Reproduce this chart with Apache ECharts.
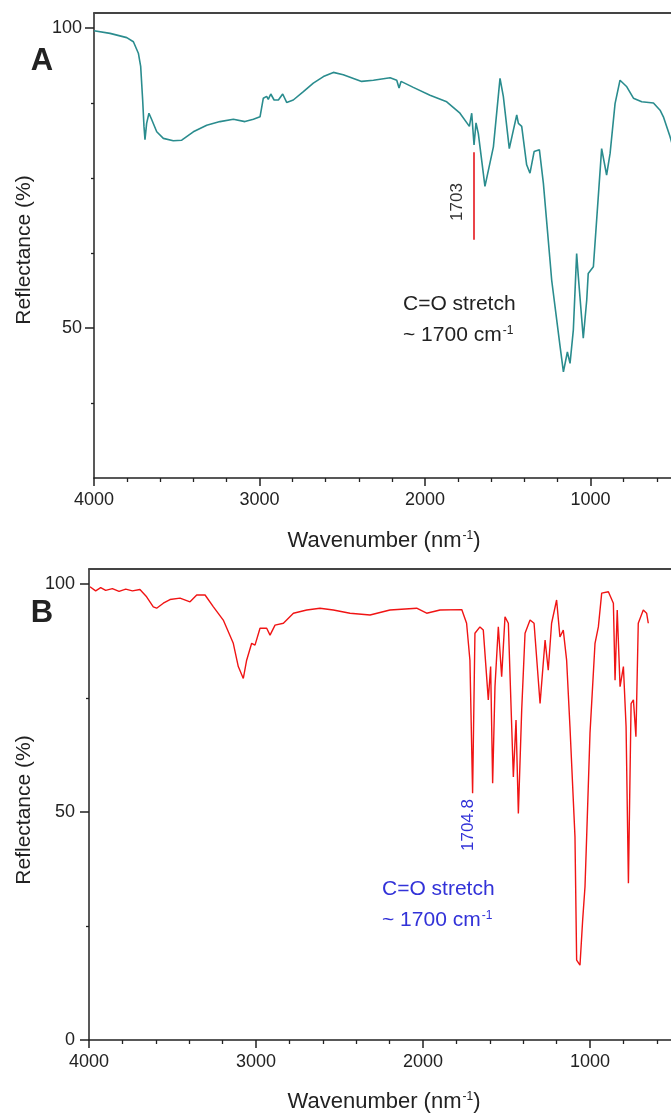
<!DOCTYPE html>
<html><head><meta charset="utf-8">
<script src="https://cdn.jsdelivr.net/npm/echarts@6/dist/echarts.min.js"></script>
<style>html,body{margin:0;padding:0;background:#fff}#c{width:671px;height:1116px}</style>
</head><body><div id="c"></div>
<script>
// ---- Panel A (teal) ----
const waveA = [
  4000,3903,3802,3762,3732,3718,3706,3698,3692,3682,
  3668,3651,3621,3581,3521,3470,3400,3319,3239,3158,
  3088,3037,2997,2977,2957,2947,2932,2912,2886,2860,
  2836,2796,2735,2675,2614,2554,2494,2383,2312,2211,
  2171,2157,2145,2071,1970,1869,1789,1732,1718,1704,
  1692,1678,1638,1587,1547,1527,1491,1471,1446,1436,
  1416,1386,1366,1341,1309,1285,1245,1235,1184,1164,
  1140,1124,1104,1084,1074,1044,1023,1014,983,933,
  903,882,852,822,781,741,691,620,580,560,
  520,500
];
const reflA = [
  99.55,99.1,98.4,97.7,95.8,93.6,88,83.6,81.4,84.1,
  85.8,84.7,82.7,81.6,81.2,81.3,82.7,83.8,84.4,84.8,
  84.4,84.8,85.2,88.3,88.6,88.1,89,88,88,89,
  87.6,88,89.4,90.8,91.9,92.6,92.2,91.1,91.3,91.7,
  91.3,90,91.1,90.1,88.8,87.7,85.8,83.6,85.8,80.5,
  84.2,82.4,73.6,80.2,91.6,88.6,79.9,82.4,85.5,84.1,
  83.6,77.2,75.8,79.4,79.7,74.1,61.3,58,46.9,42.7,
  46,44.1,49.7,62.4,58.6,48.3,54.7,59.1,60.2,79.9,
  75.5,79.1,87.4,91.3,90.2,88.3,87.7,87.5,86.3,85.2,
  81.9,80
];
// ---- Panel B (red) ----
const waveB = [
  3994,3960,3930,3900,3860,3820,3780,3740,3695,3655,
  3615,3595,3555,3515,3455,3395,3355,3305,3255,3196,
  3136,3106,3076,3056,3026,3006,2976,2936,2916,2886,
  2836,2776,2696,2617,2537,2437,2317,2198,2038,1978,
  1898,1768,1739,1719,1703,1689,1659,1639,1609,1595,
  1583,1569,1549,1529,1509,1489,1459,1443,1429,1409,
  1389,1359,1335,1299,1269,1250,1230,1200,1180,1160,
  1140,1120,1090,1080,1060,1044,1030,1020,1000,970,
  950,930,890,860,850,837,820,800,784,770,
  754,740,725,711,681,661,651
];
const reflB = [
  99.4,98.5,99.2,98.6,99.0,98.4,98.9,98.5,98.8,97.2,
  95,94.7,95.8,96.6,96.9,96.1,97.6,97.6,95,92.1,
  87,81.9,79.3,83.3,87,86.6,90.3,90.3,88.8,91,
  91.4,93.6,94.3,94.7,94.3,93.6,93.2,94.3,94.7,93.6,
  94.3,94.4,91.4,83.3,54.1,89.2,90.6,89.9,74.6,81.9,
  56.3,77.5,90.6,79.7,92.8,91.4,57.7,70.2,49.7,72.4,
  89.2,92.1,91.4,73.8,87.7,81.1,91.4,96.5,88.4,89.9,
  83.3,68.7,44.6,17.5,16.4,26.3,33.6,44.6,67.3,87,
  90.6,98,98.3,95.8,78.9,94.3,77.5,81.9,68.7,34.4,
  73.8,74.6,66.5,91.4,94.3,93.6,91.4
];
// marker line in panel A (wavenumber, from, to)
const markA = [1703, 79.3, 64.7];
// tick values
const xMajor = [4000, 3000, 2000, 1000];
const xMinor = [3800, 3600, 3400, 3200, 2800, 2600, 2400, 2200, 1800, 1600, 1400, 1200, 800, 600];
const yMajorA = [50, 100], yMinorA = [37.5, 62.5, 75, 87.5];
const yMajorB = [0, 50, 100], yMinorB = [25, 75];

const FONT = '"Liberation Sans", Arial, Helvetica, sans-serif';
const AX = '#222';
const XMIN_A = 514, XMIN_B = 515, XMAX = 4000;

function xMain(gi, min) {
  return {
    gridIndex: gi, type: 'value', min, max: XMAX, inverse: true, position: 'bottom',
    axisLine: { show: true, onZero: false, lineStyle: { color: AX, width: 1.5 } },
    axisTick: { show: true, length: 8, customValues: xMajor, lineStyle: { color: AX, width: 1.5 } },
    axisLabel: { customValues: xMajor, fontFamily: FONT, fontSize: 18, color: AX, margin: 13,
      formatter: v => String(v) },
    splitLine: { show: false }
  };
}
function xMinorAx(gi, min) {
  return {
    gridIndex: gi, type: 'value', min, max: XMAX, inverse: true, position: 'bottom',
    axisLine: { show: false, onZero: false },
    axisTick: { show: true, length: 4, customValues: xMinor, lineStyle: { color: AX, width: 1.3 } },
    axisLabel: { show: false }, splitLine: { show: false }
  };
}
function xTop(gi, min) {
  return {
    gridIndex: gi, type: 'value', min, max: XMAX, inverse: true, position: 'top',
    axisLine: { show: true, onZero: false, lineStyle: { color: '#444', width: 1.8 } },
    axisTick: { show: false }, axisLabel: { show: false }, splitLine: { show: false }
  };
}
function yMajor(gi, min, max, vals, margin) {
  return {
    gridIndex: gi, type: 'value', min, max, position: 'left',
    axisLine: { show: true, onZero: false, lineStyle: { color: AX, width: 1.5 } },
    axisTick: { show: true, length: 9, customValues: vals, lineStyle: { color: AX, width: 1.5 } },
    axisLabel: { customValues: vals, fontFamily: FONT, fontSize: 18, color: AX, margin,
      formatter: v => String(v) },
    splitLine: { show: false }
  };
}
function yMinorAx(gi, min, max, vals) {
  return {
    gridIndex: gi, type: 'value', min, max, position: 'left',
    axisLine: { show: false, onZero: false },
    axisTick: { show: true, length: 3, customValues: vals, lineStyle: { color: AX, width: 1.3 } },
    axisLabel: { show: false }, splitLine: { show: false }
  };
}

const supRich = { s: { fontFamily: FONT, fontSize: 12, verticalAlign: 'top', padding: [0, 0, 0, 1] } };
function txt(x, y, text, opt) {
  opt = opt || {};
  const size = opt.size || 21;
  const rich = {};
  Object.keys(supRich).forEach(k => rich[k] = Object.assign({}, supRich[k], { fill: opt.color || AX, color: opt.color || AX }));
  return {
    type: 'text', x, y, rotation: opt.rot || 0, silent: true,
    style: {
      text, fill: opt.color || AX,
      font: (opt.bold ? 'bold ' : '') + size + 'px ' + (opt.family || FONT),
      fontSize: size, fontFamily: opt.family || FONT, fontWeight: opt.bold ? 'bold' : 'normal',
      textAlign: opt.align || 'center', textVerticalAlign: 'middle',
      align: opt.align || 'center', verticalAlign: 'middle',
      rich
    }
  };
}

const gA = { left: 94, top: 13, right: 0, height: 465 };
const gB = { left: 89, top: 569, right: 0, height: 471 };

const chart = echarts.init(document.getElementById('c'), null, { renderer: 'canvas' });
chart.setOption({
  animation: false,
  backgroundColor: '#fff',
  grid: [gA, gB, Object.assign({}, gA), Object.assign({}, gB)],
  xAxis: [
    xMain(0, XMIN_A), xMain(1, XMIN_B),
    xMinorAx(2, XMIN_A), xMinorAx(3, XMIN_B),
    xTop(0, XMIN_A), xTop(1, XMIN_B)
  ],
  yAxis: [
    yMajor(0, 25, 102.5, yMajorA, 12),
    yMajor(1, 0, 103.3, yMajorB, 14),
    yMinorAx(2, 25, 102.5, yMinorA),
    yMinorAx(3, 0, 103.3, yMinorB)
  ],
  series: [
    {
      type: 'line', xAxisIndex: 0, yAxisIndex: 0, showSymbol: false, symbol: 'none',
      data: waveA.map((w, i) => [w, reflA[i]]),
      lineStyle: { color: '#2a8c8e', width: 1.6 },
      markLine: {
        silent: true, symbol: 'none', label: { show: false },
        lineStyle: { color: '#e5161c', width: 1.6, type: 'solid' },
        data: [[{ coord: [markA[0], markA[1]] }, { coord: [markA[0], markA[2]] }]]
      }
    },
    {
      type: 'line', xAxisIndex: 1, yAxisIndex: 1, showSymbol: false, symbol: 'none',
      data: waveB.map((w, i) => [w, reflB[i]]),
      lineStyle: { color: '#f01414', width: 1.4 }
    }
  ],
  graphic: [
    txt(42, 61, 'A', { size: 31, bold: true }),
    txt(42, 613, 'B', { size: 31, bold: true }),
    txt(24, 250, 'Reflectance (%)', { size: 21, rot: Math.PI / 2 }),
    txt(24, 810, 'Reflectance (%)', { size: 21, rot: Math.PI / 2 }),
    txt(384, 541, 'Wavenumber (nm{s|-1})', { size: 22 }),
    txt(384, 1102, 'Wavenumber (nm{s|-1})', { size: 22 }),
    txt(457, 202, '1703', { size: 17, rot: Math.PI / 2, color: '#333' }),
    txt(403, 304, 'C=O stretch', { size: 21, align: 'left' }),
    txt(403, 335, '~ 1700 cm{s|-1}', { size: 21, align: 'left' }),
    txt(468, 825, '1704.8', { size: 17, rot: Math.PI / 2, color: '#3232d8' }),
    txt(382, 889, 'C=O stretch', { size: 21, align: 'left', color: '#3232d8' }),
    txt(382, 920, '~ 1700 cm{s|-1}', { size: 21, align: 'left', color: '#3232d8' })
  ]
});
</script></body></html>
